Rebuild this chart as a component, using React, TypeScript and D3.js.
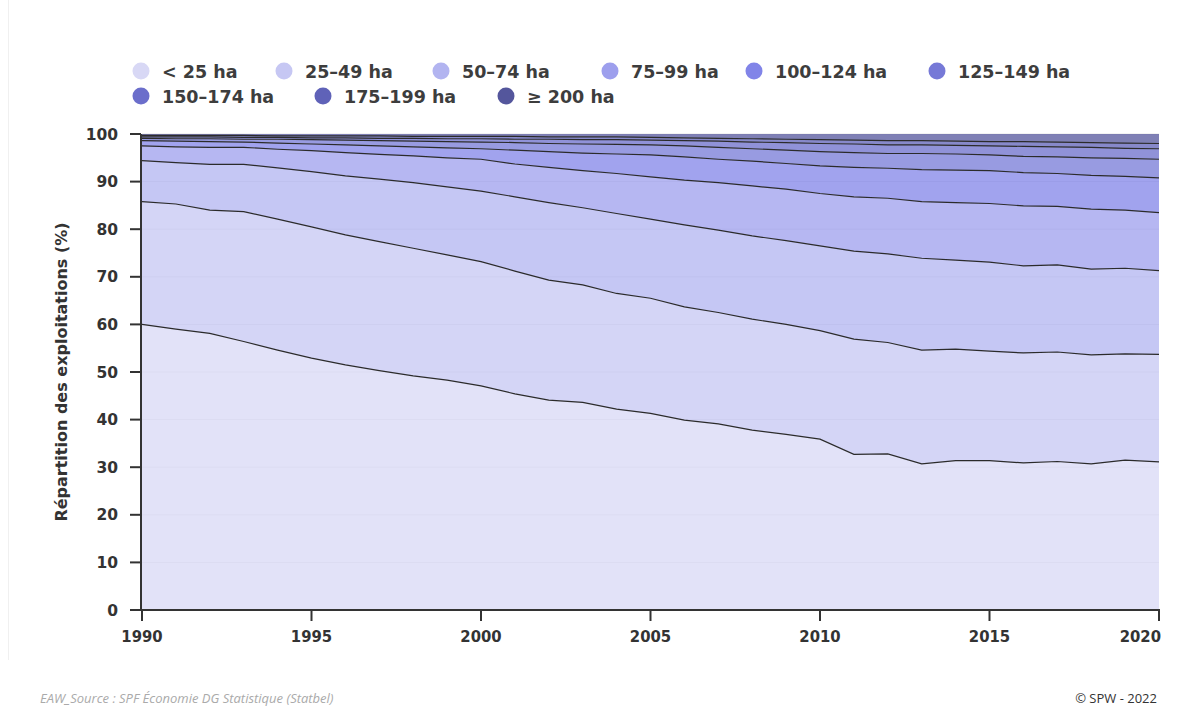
import React from "react";
import * as d3 from "d3";

const years: number[] = d3.range(1990, 2021);

// Cumulative share of farms below each size threshold (%)
const cumLt25 = [60.0, 59.0, 58.1, 56.4, 54.6, 52.9, 51.5, 50.3, 49.2, 48.3, 47.1, 45.4, 44.1, 43.6, 42.2, 41.3, 39.9, 39.1, 37.8, 36.9, 35.9, 32.7, 32.8, 30.7, 31.4, 31.4, 30.9, 31.2, 30.7, 31.5, 31.1];
const cumLt50 = [85.8, 85.3, 84.0, 83.7, 82.1, 80.5, 78.8, 77.4, 76.0, 74.6, 73.2, 71.2, 69.3, 68.3, 66.5, 65.5, 63.7, 62.5, 61.1, 60.0, 58.7, 56.9, 56.2, 54.6, 54.8, 54.4, 54.0, 54.2, 53.6, 53.8, 53.7];
const cumLt75 = [94.4, 94.0, 93.6, 93.6, 92.9, 92.1, 91.2, 90.5, 89.8, 88.9, 88.0, 86.8, 85.6, 84.5, 83.3, 82.1, 80.9, 79.8, 78.6, 77.6, 76.5, 75.4, 74.8, 73.9, 73.5, 73.1, 72.3, 72.5, 71.6, 71.8, 71.3];
const cumLt100 = [97.5, 97.3, 97.2, 97.2, 96.8, 96.5, 96.1, 95.7, 95.4, 95.0, 94.7, 93.7, 93.0, 92.3, 91.7, 91.0, 90.3, 89.8, 89.1, 88.4, 87.5, 86.8, 86.5, 85.8, 85.6, 85.4, 84.9, 84.8, 84.2, 84.0, 83.5];
const cumLt125 = [98.6, 98.5, 98.4, 98.3, 98.1, 97.9, 97.7, 97.5, 97.3, 97.1, 96.9, 96.6, 96.3, 96.0, 95.8, 95.6, 95.2, 94.7, 94.3, 93.8, 93.3, 93.0, 92.8, 92.5, 92.4, 92.3, 91.9, 91.7, 91.3, 91.1, 90.8];
const cumLt150 = [99.1, 99.0, 99.0, 98.9, 98.9, 98.8, 98.7, 98.6, 98.5, 98.4, 98.3, 98.2, 98.0, 97.9, 97.8, 97.7, 97.5, 97.2, 96.9, 96.6, 96.3, 96.1, 95.9, 95.9, 95.8, 95.6, 95.3, 95.2, 95.0, 94.9, 94.7];
const cumLt175 = [99.4, 99.4, 99.4, 99.3, 99.3, 99.2, 99.2, 99.1, 99.1, 99.0, 99.0, 98.9, 98.9, 98.8, 98.8, 98.7, 98.6, 98.5, 98.3, 98.2, 98.0, 97.9, 97.7, 97.7, 97.6, 97.5, 97.4, 97.3, 97.2, 97.0, 96.9];
const cumLt200 = [99.7, 99.7, 99.7, 99.7, 99.6, 99.6, 99.6, 99.6, 99.5, 99.5, 99.5, 99.5, 99.4, 99.4, 99.4, 99.3, 99.2, 99.1, 99.0, 98.9, 98.8, 98.7, 98.6, 98.6, 98.5, 98.4, 98.4, 98.3, 98.2, 98.1, 98.0];
const cumAll = years.map(() => 100);

const categories = ["< 25 ha", "25–49 ha", "50–74 ha", "75–99 ha", "100–124 ha", "125–149 ha", "150–174 ha", "175–199 ha", "≥ 200 ha"];
const colors = ["#d8d8f5", "#c6c7f3", "#b2b4f0", "#9d9fed", "#8184e8", "#7679d7", "#6b6ecb", "#5f62b8", "#54569c"];
const yTicks = [0, 10, 20, 30, 40, 50, 60, 70, 80, 90, 100];
const xTicks = [1990, 1995, 2000, 2005, 2010, 2015, 2020];

const cumulative = [cumLt25, cumLt50, cumLt75, cumLt100, cumLt125, cumLt150, cumLt175, cumLt200, cumAll];

type Row = { year: number; [k: string]: number };
const rows: Row[] = years.map((year, i) => {
  const r: Row = { year };
  categories.forEach((c, k) => {
    const prev = k === 0 ? 0 : cumulative[k - 1][i];
    r[c] = +(cumulative[k][i] - prev).toFixed(2);
  });
  return r;
});

// legend layout: [row, x of marker]
const legendPos: [number, number][] = [
  [0, 141], [0, 284], [0, 441], [0, 610], [0, 754], [0, 937],
  [1, 141], [1, 323], [1, 506],
];

export default function App() {
  const left = 142, right = 1159, top = 134, bottom = 610;
  const x = d3.scaleLinear().domain([1990, 2020]).range([left, right]);
  const y = d3.scaleLinear().domain([0, 100]).range([bottom, top]);

  const stack = d3.stack<Row>().keys(categories);
  const series = stack(rows);

  const area = d3
    .area<d3.SeriesPoint<Row>>()
    .x((d) => x(d.data.year))
    .y0((d) => y(d[0]))
    .y1((d) => y(d[1]));
  const line = d3
    .line<d3.SeriesPoint<Row>>()
    .x((d) => x(d.data.year))
    .y((d) => y(d[1]));

  const font = "'DejaVu Sans', Verdana, sans-serif";

  return (
    <svg
      width={1182}
      height={722}
      style={{ position: "absolute", left: 0, top: 0, background: "#fff" }}
    >
      {/* faint container frame */}
      <line x1={8.5} x2={8.5} y1={0} y2={660} stroke="#f0f0f0" strokeWidth={1} />

      {/* legend */}
      {categories.map((c, i) => {
        const [row, cx] = legendPos[i];
        const cy = row === 0 ? 71 : 96;
        return (
          <g key={c}>
            <circle cx={cx} cy={cy} r={8.5} fill={colors[i]} />
            <text
              x={cx + 21}
              y={cy + 6.5}
              fontFamily={font}
              fontWeight="bold"
              fontSize={17.5}
              fill="#3d3d3d"
            >
              {c}
            </text>
          </g>
        );
      })}

      {/* gridlines */}
      {yTicks.map((t) => (
        <line key={"g" + t} x1={left} x2={right} y1={y(t)} y2={y(t)} stroke="#e6e6e6" strokeWidth={1} />
      ))}

      {/* areas */}
      {series.map((s, i) => (
        <path key={"a" + i} d={area(s) || ""} fill={colors[i]} fillOpacity={0.75} />
      ))}
      {series.slice(0, 8).map((s, i) => (
        <path key={"l" + i} d={line(s) || ""} fill="none" stroke="#2b2b2b" strokeWidth={1.2} />
      ))}

      {/* y axis */}
      <line x1={left - 1} x2={left - 1} y1={top} y2={bottom + 1} stroke="#333" strokeWidth={2} />
      {yTicks.map((t) => (
        <g key={"y" + t}>
          <line x1={left - 12} x2={left - 1} y1={y(t)} y2={y(t)} stroke="#333" strokeWidth={2} />
          <text
            x={left - 24}
            y={y(t) + 5.5}
            textAnchor="end"
            fontFamily={font}
            fontWeight="bold"
            fontSize={15.5}
            fill="#333"
          >
            {t}
          </text>
        </g>
      ))}
      <text
        transform={`translate(67, ${(top + bottom) / 2}) rotate(-90)`}
        textAnchor="middle"
        fontFamily={font}
        fontWeight="bold"
        fontSize={16}
        fill="#333"
      >
        Répartition des exploitations (%)
      </text>

      {/* x axis */}
      <line x1={left - 2} x2={right + 1} y1={bottom} y2={bottom} stroke="#333" strokeWidth={2} />
      {xTicks.map((t, i) => {
        const last = i === xTicks.length - 1;
        return (
          <g key={"x" + t}>
            <line x1={x(t)} x2={x(t)} y1={bottom} y2={bottom + 11} stroke="#333" strokeWidth={2} />
            <text
              x={last ? x(t) + 2 : x(t)}
              y={bottom + 32}
              textAnchor={last ? "end" : "middle"}
              fontFamily="'DejaVu Sans Condensed', 'DejaVu Sans', sans-serif"
              fontStretch="condensed"
              fontWeight="bold"
              fontSize={16.5}
              fill="#333"
            >
              {t}
            </text>
          </g>
        );
      })}

      {/* footer */}
      <text
        x={40}
        y={703}
        fontFamily="'Open Sans', sans-serif"
        fontStyle="italic"
        fontSize={13}
        fill="#aaa"
      >
        EAW_Source : SPF Économie DG Statistique (Statbel)
      </text>
      <text
        x={1157}
        y={703}
        textAnchor="end"
        fontFamily="'Open Sans', sans-serif"
        fontSize={13}
        fill="#333"
      >
        © SPW - 2022
      </text>
    </svg>
  );
}
